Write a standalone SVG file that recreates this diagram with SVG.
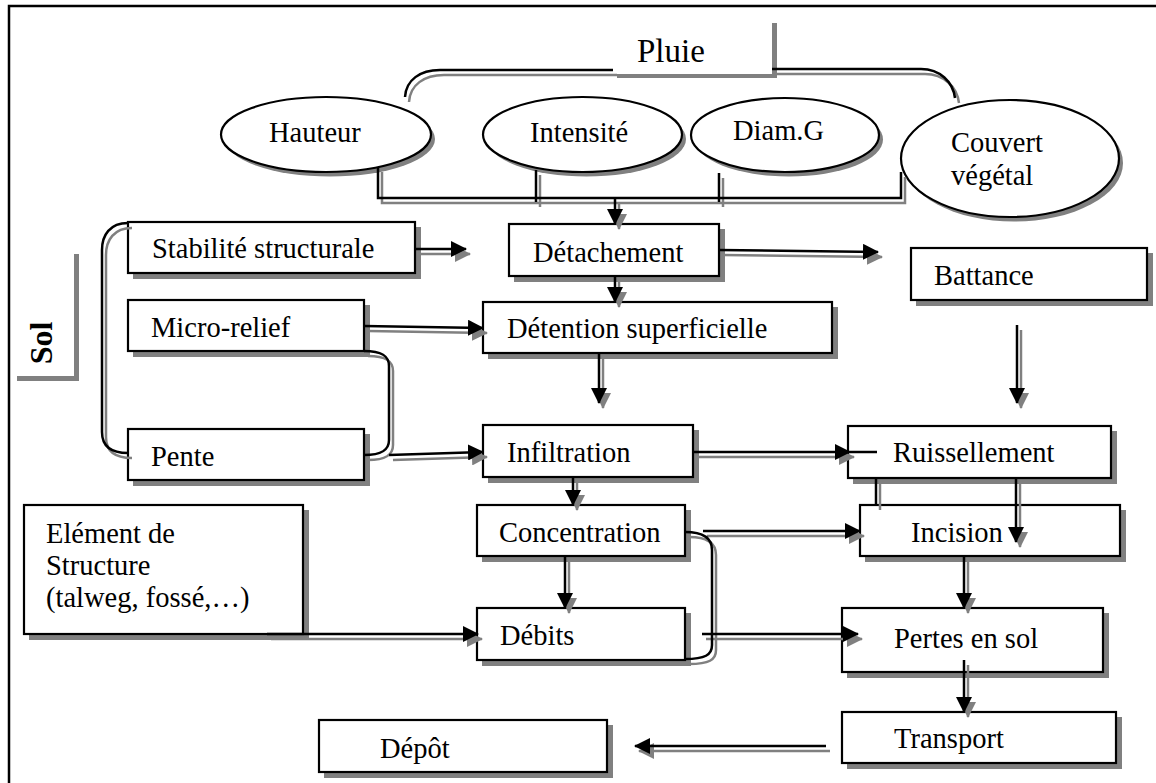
<svg xmlns="http://www.w3.org/2000/svg" width="1156" height="783" viewBox="0 0 1156 783">
<defs>
<marker id="ak" markerUnits="userSpaceOnUse" markerWidth="16" markerHeight="16" viewBox="0 0 16 16" refX="15" refY="8" orient="auto"><path d="M0,0 L16,8 L0,16 z" fill="#000"/></marker>
<marker id="ag" markerUnits="userSpaceOnUse" markerWidth="16" markerHeight="16" viewBox="0 0 16 16" refX="15" refY="8" orient="auto"><path d="M0,0 L16,8 L0,16 z" fill="#808080"/></marker>
<path id="b1" d="M378,167 V198 H901 V172"/>
<path id="b2" d="M536,170 V202"/>
<path id="b3" d="M719,173 V202"/>
<path id="b4" d="M613,70 H440 C420,70 406,80 405,97"/>
<path id="b5" d="M772,69 H921 C940,69 953,82 955,98"/>
<path id="b6" d="M128,223 C110,223 102,235 102,250 V432 C102,446 110,453 128,453"/>
<path id="b7" d="M364,351 C382,351 389,356 389,366 V440 C389,450 382,455 364,455"/>
<path id="b8" d="M685,532 C703,532 712,538 712,550 V645 C712,655 705,659 685,659"/>
<path id="b9" d="M876,478 V505"/>
<path id="a1" d="M615,198 V224"/>
<path id="a2" d="M415,249 H466"/>
<path id="a3" d="M719,250 L878,252"/>
<path id="a4" d="M615,276 V302"/>
<path id="a5" d="M364,326 L483,328"/>
<path id="a6" d="M599,353 V403"/>
<path id="a7" d="M1017,325 V403"/>
<path id="a8" d="M389,455 L483,452"/>
<path id="a9" d="M693,452 H850"/>
<path id="a10" d="M573,477 V505"/>
<path id="a11" d="M1016,478 V542"/>
<path id="a12" d="M703,531 H860"/>
<path id="a13" d="M565,556 V608"/>
<path id="a14" d="M267,634 H478"/>
<path id="a15" d="M702,634 H858"/>
<path id="a16" d="M964,556 V608"/>
<path id="a17" d="M964,660 V712"/>
<path id="a18" d="M826,746 H635"/>
</defs>
<style>
.box{fill:#fff;stroke:#000;stroke-width:2.2}
.sh{fill:#808080;stroke:none}
.wh{fill:#fff;stroke:none}
text{font-family:"Liberation Serif","Times New Roman",serif;font-size:28.5px;fill:#000}
.k{fill:none;stroke:#000;stroke-width:2.5}
.g{fill:none;stroke:#808080;stroke-width:2.5}
.ka{fill:none;stroke:#000;stroke-width:2.5;marker-end:url(#ak)}
.ga{fill:none;stroke:#808080;stroke-width:2.5;marker-end:url(#ag)}
</style>
<rect width="1156" height="783" fill="#fff"/>
<g id="frame"><path d="M9,783 V6 H1156" fill="none" stroke="#000" stroke-width="2.5"/></g>

<g id="nodes">
<g id="n-pluie"><rect class="sh" x="617" y="23" width="160" height="55"/><rect class="wh" x="613" y="19" width="159" height="55"/><text x="637" y="62" style="font-size:33px">Pluie</text></g>
<g id="n-hauteur"><ellipse class="sh" cx="330" cy="139" rx="105" ry="37.5"/><ellipse class="box" cx="326" cy="134.5" rx="105" ry="37.5"/><text x="269" y="142">Hauteur</text></g>
<g id="n-intensite"><ellipse class="sh" cx="586.5" cy="139" rx="99.5" ry="37.5"/><ellipse class="box" cx="582.5" cy="134.5" rx="99.5" ry="37.5"/><text x="530" y="142">Intensité</text></g>
<g id="n-diam"><ellipse class="sh" cx="789" cy="139.5" rx="94" ry="37"/><ellipse class="box" cx="785" cy="135" rx="94" ry="37"/><text x="733" y="140">Diam.G</text></g>
<g id="n-couvert"><ellipse class="sh" cx="1014" cy="163" rx="109" ry="58.5"/><ellipse class="box" cx="1010" cy="158.5" rx="109" ry="58.5"/><text x="951" y="152">Couvert</text><text x="951" y="185">végétal</text></g>
<g id="n-sol"><rect class="sh" x="17" y="254" width="62" height="127"/><rect class="wh" x="12" y="249" width="62" height="127"/><text transform="translate(52,343) rotate(-90)" text-anchor="middle" style="font-size:32px;font-weight:bold">Sol</text></g>
<g id="n-stabilite"><rect class="sh" x="133" y="227" width="288" height="52"/><rect class="box" x="128" y="222" width="287" height="51"/><text x="152" y="258">Stabilité structurale</text></g>
<g id="n-detachement"><rect class="sh" x="514" y="229" width="211" height="53"/><rect class="box" x="509" y="224" width="210" height="52"/><text x="533" y="262">Détachement</text></g>
<g id="n-battance"><rect class="sh" x="916" y="253" width="237" height="53"/><rect class="box" x="911" y="248" width="236" height="52"/><text x="934" y="285">Battance</text></g>
<g id="n-micro"><rect class="sh" x="133" y="305" width="237" height="52"/><rect class="box" x="128" y="300" width="236" height="51"/><text x="151" y="337">Micro-relief</text></g>
<g id="n-detention"><rect class="sh" x="488" y="307" width="350" height="52"/><rect class="box" x="483" y="302" width="349" height="51"/><text x="507" y="338">Détention superficielle</text></g>
<g id="n-pente"><rect class="sh" x="133" y="434" width="237" height="52"/><rect class="box" x="128" y="429" width="236" height="51"/><text x="151" y="466">Pente</text></g>
<g id="n-infiltration"><rect class="sh" x="488" y="430" width="211" height="53"/><rect class="box" x="483" y="425" width="210" height="52"/><text x="507" y="462">Infiltration</text></g>
<g id="n-ruissellement"><rect class="sh" x="853" y="431" width="264" height="53"/><rect class="box" x="848" y="426" width="263" height="52"/><text x="893" y="462">Ruissellement</text></g>
<g id="n-element"><rect class="sh" x="29" y="510" width="280" height="130"/><rect class="box" x="24" y="505" width="279" height="129"/><text x="46" y="543">Elément de</text><text x="46" y="575">Structure</text><text x="46" y="607">(talweg, fossé,…)</text></g>
<g id="n-concentration"><rect class="sh" x="482" y="510" width="209" height="52"/><rect class="box" x="477" y="505" width="208" height="51"/><text x="499" y="542">Concentration</text></g>
<g id="n-incision"><rect class="sh" x="865" y="510" width="261" height="52"/><rect class="box" x="860" y="505" width="260" height="51"/><text x="911" y="542">Incision</text></g>
<g id="n-debits"><rect class="sh" x="482" y="613" width="209" height="53"/><rect class="box" x="477" y="608" width="208" height="52"/><text x="500" y="645">Débits</text></g>
<g id="n-pertes"><rect class="sh" x="847" y="613" width="262" height="65"/><rect class="box" x="842" y="608" width="261" height="64"/><text x="894" y="648">Pertes en sol</text></g>
<g id="n-transport"><rect class="sh" x="847" y="717" width="275" height="52"/><rect class="box" x="842" y="712" width="274" height="51"/><text x="894" y="748">Transport</text></g>
<g id="n-depot"><rect class="sh" x="324" y="725" width="289" height="53"/><rect class="box" x="319" y="720" width="288" height="52"/><text x="380" y="758">Dépôt</text></g>
</g>

<g id="connectors">
<g id="conn-shadow" transform="translate(4,5)">
<use href="#b1" class="g"/><use href="#b2" class="g"/><use href="#b3" class="g"/><use href="#b4" class="g"/><use href="#b5" class="g"/><use href="#b6" class="g"/><use href="#b7" class="g"/><use href="#b8" class="g"/><use href="#b9" class="g"/>
<use href="#a1" class="ga"/><use href="#a2" class="ga"/><use href="#a3" class="ga"/><use href="#a4" class="ga"/><use href="#a5" class="ga"/><use href="#a6" class="ga"/><use href="#a7" class="ga"/><use href="#a8" class="ga"/><use href="#a9" class="ga"/><use href="#a10" class="ga"/><use href="#a11" class="ga"/><use href="#a12" class="ga"/><use href="#a13" class="ga"/><use href="#a14" class="ga"/><use href="#a15" class="ga"/><use href="#a16" class="ga"/><use href="#a17" class="ga"/><use href="#a18" class="ga"/>
</g>
<g id="conn-lines">
<use href="#b1" class="k"/><use href="#b2" class="k"/><use href="#b3" class="k"/><use href="#b4" class="k"/><use href="#b5" class="k"/><use href="#b6" class="k"/><use href="#b7" class="k"/><use href="#b8" class="k"/><use href="#b9" class="k"/>
<use href="#a1" class="ka"/><use href="#a2" class="ka"/><use href="#a3" class="ka"/><use href="#a4" class="ka"/><use href="#a5" class="ka"/><use href="#a6" class="ka"/><use href="#a7" class="ka"/><use href="#a8" class="ka"/><use href="#a9" class="ka"/><use href="#a10" class="ka"/><use href="#a11" class="ka"/><use href="#a12" class="ka"/><use href="#a13" class="ka"/><use href="#a14" class="ka"/><use href="#a15" class="ka"/><use href="#a16" class="ka"/><use href="#a17" class="ka"/><use href="#a18" class="ka"/>
<path d="M850,452 H877" class="k"/>
</g>
</g>
</svg>
